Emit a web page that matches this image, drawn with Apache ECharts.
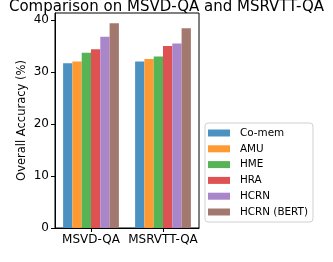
<!DOCTYPE html>
<html><head><meta charset="utf-8">
<script src="https://cdn.jsdelivr.net/npm/echarts@6/dist/echarts.min.js"></script>
<style>html,body{margin:0;padding:0;background:#fff}#c{width:333px;height:262px}</style>
</head><body><div id="c"></div>
<script>
const categories = ['MSVD-QA', 'MSRVTT-QA'];
const seriesNames = ['Co-mem', 'AMU', 'HME', 'HRA', 'HCRN', 'HCRN (BERT)'];
const coMem = [31.7, 32.0];
const amu = [32.0, 32.5];
const hme = [33.7, 33.0];
const hra = [34.4, 35.0];
const hcrn = [36.8, 35.5];
const hcrnBert = [39.4, 38.4];
const yTicks = [0, 10, 20, 30, 40];
const colors = ['#4b92c3', '#ff9932', '#56b356', '#de5253', '#a985ca', '#a3786f'];
const values = [coMem, amu, hme, hra, hcrn, hcrnBert];
const font = 'DejaVu Sans';
const chart = echarts.init(document.getElementById('c'));
chart.setOption({
  animation: false,
  title: {text: 'Comparison on MSVD-QA and MSRVTT-QA', left: 'center', top: -5,
    textStyle: {fontFamily: font, fontSize: 15, fontWeight: 'normal', color: '#000'}},
  grid: {left: 55, right: 134, top: 13, bottom: 34, show: true, borderColor: '#000', borderWidth: 1},
  legend: {orient: 'vertical', left: 205, top: 123, itemWidth: 22, itemHeight: 7, itemGap: 3.8,
    padding: [4, 5, 4, 3], borderColor: '#d0d0d0', borderWidth: 1, borderRadius: 3,
    icon: 'rect', data: seriesNames,
    textStyle: {fontFamily: font, fontSize: 10.4, color: '#000', lineHeight: 12, padding: [0, 0, 0, 5]}},
  xAxis: {type: 'category', data: categories,
    axisLine: {show: true, lineStyle: {color: '#000'}},
    axisTick: {show: true, alignWithLabel: true, length: 4, lineStyle: {color: '#000'}},
    axisLabel: {fontFamily: font, fontSize: 12, color: '#000', margin: 6, interval: 0}},
  yAxis: {type: 'value', min: 0, max: 41.35, interval: 10,
    name: 'Overall Accuracy (%)', nameLocation: 'middle', nameGap: 27,
    nameTextStyle: {fontFamily: font, fontSize: 11.5, color: '#000'},
    splitLine: {show: false},
    axisLine: {show: true, lineStyle: {color: '#000'}},
    axisTick: {show: true, length: 4, customValues: yTicks, lineStyle: {color: '#000'}},
    axisLabel: {fontFamily: font, fontSize: 12, color: '#000', margin: 6, customValues: yTicks}},
  series: seriesNames.map((n, i) => ({
    name: n, type: 'bar', data: values[i], barWidth: 9.3, barGap: '0%',
    itemStyle: {color: colors[i]}
  }))
});
</script></body></html>
